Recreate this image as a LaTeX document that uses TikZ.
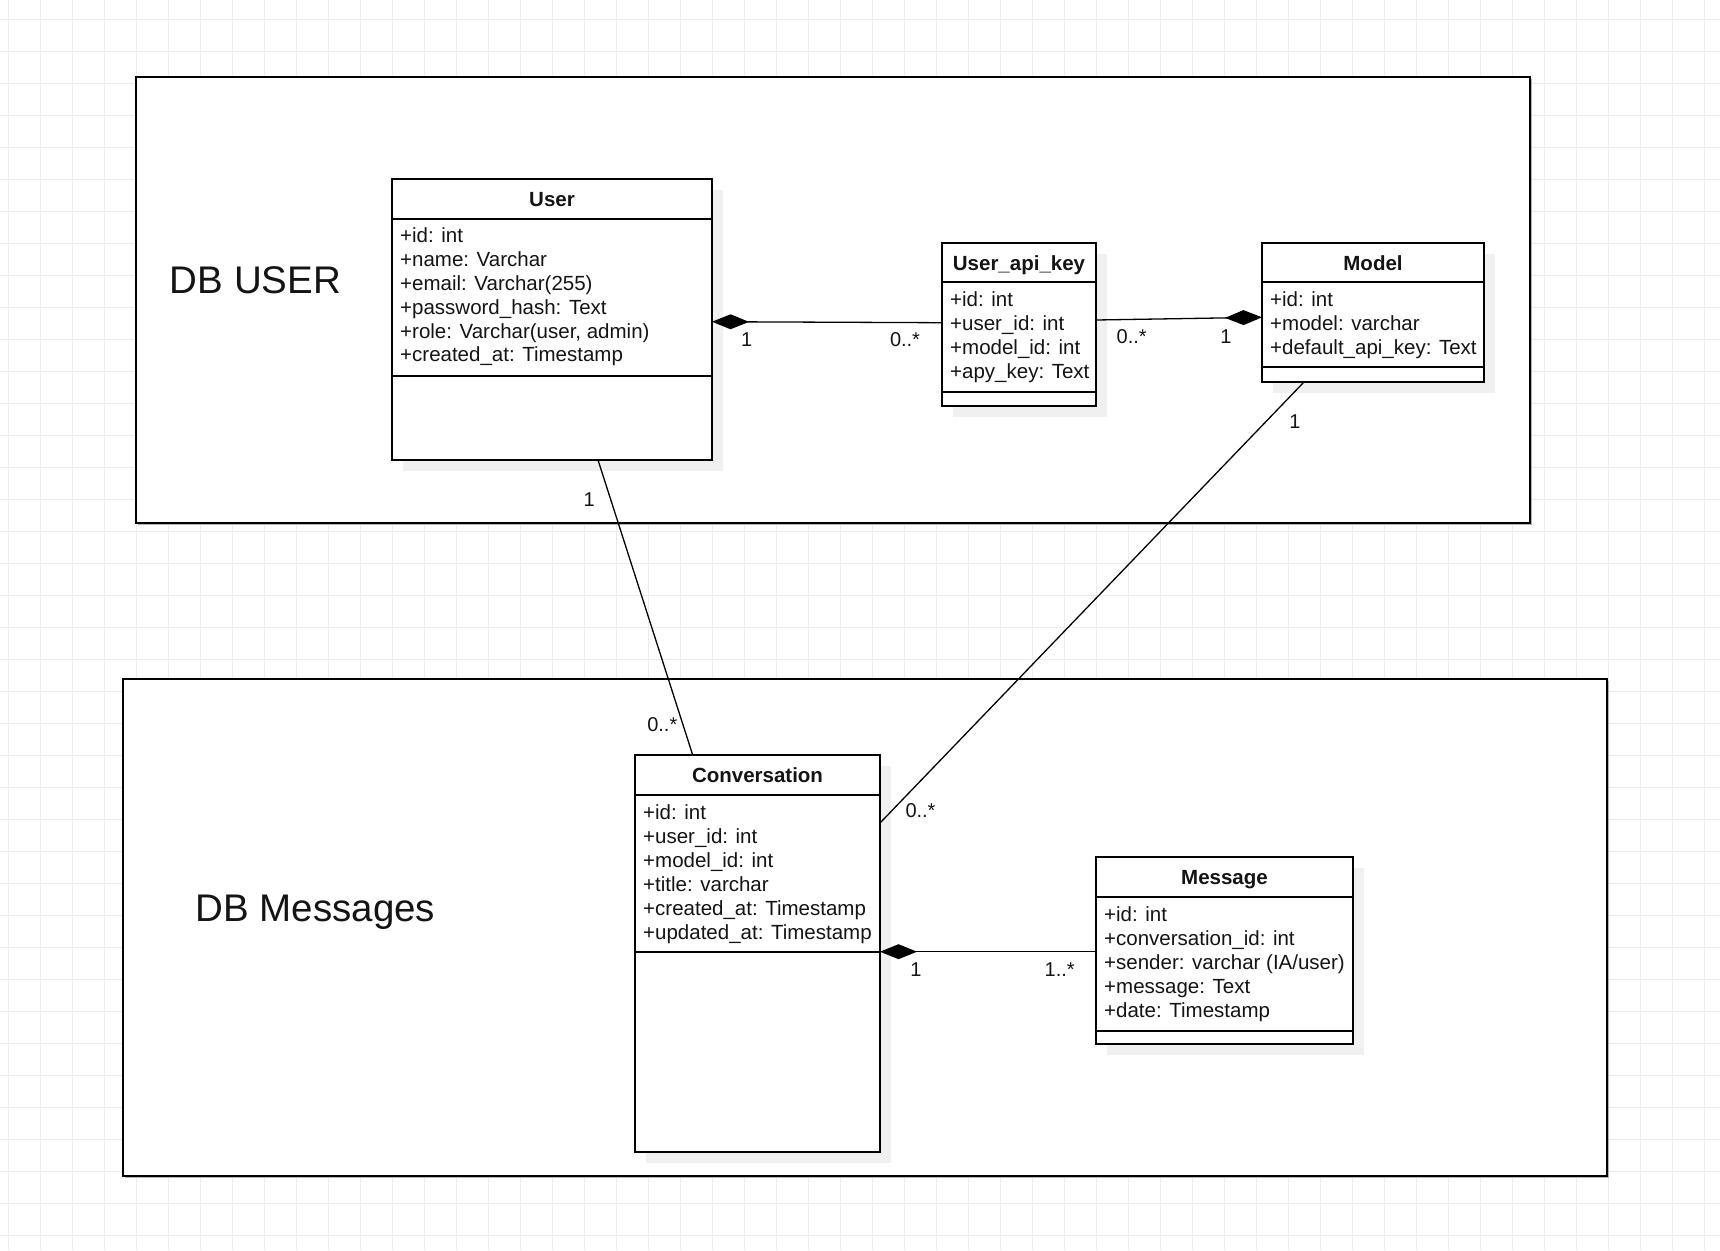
\documentclass[tikz,border=0pt]{standalone}
\usepackage{fontspec}
\setmainfont{Liberation Sans}
\usetikzlibrary{arrows.meta,calc,shadows}
\definecolor{gridc}{RGB}{236,236,236}
\definecolor{shadowc}{RGB}{240,240,240}
\definecolor{txt}{RGB}{20,20,20}
\tikzset{
  container/.style={draw=black, fill=white, line width=2pt, inner sep=0pt, outer sep=0pt, anchor=north west,
    drop shadow={shadow xshift=1.5pt, shadow yshift=-1.5pt, fill=gray!60, opacity=1}},
  clsbox/.style={draw=black, fill=white, line width=1.6pt, inner sep=0pt, outer sep=0pt, anchor=north west,
    drop shadow={shadow xshift=11pt, shadow yshift=-11pt, fill=shadowc, opacity=1}},
  sepline/.style={draw=black, line width=1.6pt},
  clstitle/.style={font=\fontsize{20.5}{24}\selectfont\bfseries, text=txt, inner sep=0pt, anchor=base},
  attr/.style={font=\fontsize{20.5}{24}\selectfont, text=txt, inner sep=0pt, anchor=base west},
  mult/.style={font=\fontsize{20}{24}\selectfont, text=txt, inner sep=0pt, anchor=base},
  dblabel/.style={font=\fontsize{38.5}{44}\selectfont, text=txt, inner sep=0pt, anchor=base},
  assoc/.style={draw=black, line width=1.3pt},
  comp/.style={assoc, {Diamond[length=37pt, width=15pt, fill=black]}-},
  compend/.style={assoc, -{Diamond[length=37pt, width=15pt, fill=black]}}
}
\begin{document}
\begin{tikzpicture}[x=1pt, y=-1pt]
\useasboundingbox (0,0) rectangle (1720,1250);
\fill[white] (0,0) rectangle (1720,1250);
% background grid
\foreach \i in {0,...,53} \draw[gridc, line width=1pt] (8.3+32*\i,0) -- (8.3+32*\i,1250);
\foreach \j in {0,...,38} \draw[gridc, line width=1pt] (0,19.3+32*\j) -- (1720,19.3+32*\j);

% containers
\node[container, minimum width=1394pt, minimum height=446pt] (dbuser) at (136,77) {};
\node[container, minimum width=1484pt, minimum height=497pt] (dbmsg) at (123,679) {};
\node[dblabel] (dbuserlbl) at (255.5,293.3) {DB USER};
\node[dblabel] (dbmsglbl) at (315.3,921) {DB Messages};

% User
\node[clsbox, minimum width=320pt, minimum height=281pt] (user) at (392,179) {};
\draw[sepline] (user.west |- 0,219) -- (user.east |- 0,219);
\draw[sepline] (user.west |- 0,376) -- (user.east |- 0,376);
\node[clstitle] (usert) at ($(user.north)+(0,27)$) {User};
\foreach \t [count=\k] in {{+id: int},{+name: Varchar},{+email: Varchar(255)},{+password\_hash: Text},{+role: Varchar(user, admin)},{+created\_at: Timestamp}}
  \node[attr] (usera\k) at ($(user.north west)+(8,40+23.8*\k)$) {\t};

% User_api_key
\node[clsbox, minimum width=154pt, minimum height=163pt] (uak) at (942,243) {};
\draw[sepline] (uak.west |- 0,282) -- (uak.east |- 0,282);
\draw[sepline] (uak.west |- 0,392) -- (uak.east |- 0,392);
\node[clstitle] (uakt) at ($(uak.north)+(0,27)$) {User\_api\_key};
\foreach \t [count=\k] in {{+id: int},{+user\_id: int},{+model\_id: int},{+apy\_key: Text}}
  \node[attr] (uaka\k) at ($(uak.north west)+(8,39+24*\k)$) {\t};

% Model
\node[clsbox, minimum width=222pt, minimum height=139pt] (model) at (1262,243) {};
\draw[sepline] (model.west |- 0,282) -- (model.east |- 0,282);
\draw[sepline] (model.west |- 0,367) -- (model.east |- 0,367);
\node[clstitle] (modelt) at ($(model.north)+(0,27)$) {Model};
\foreach \t [count=\k] in {{+id: int},{+model: varchar},{+default\_api\_key: Text}}
  \node[attr] (modela\k) at ($(model.north west)+(8,39+24*\k)$) {\t};

% Conversation
\node[clsbox, minimum width=245pt, minimum height=397pt] (conv) at (635,755) {};
\draw[sepline] (conv.west |- 0,795) -- (conv.east |- 0,795);
\draw[sepline] (conv.west |- 0,952) -- (conv.east |- 0,952);
\node[clstitle] (convt) at ($(conv.north)+(0,27)$) {Conversation};
\foreach \t [count=\k] in {{+id: int},{+user\_id: int},{+model\_id: int},{+title: varchar},{+created\_at: Timestamp},{+updated\_at: Timestamp}}
  \node[attr] (conva\k) at ($(conv.north west)+(8,40+24*\k)$) {\t};

% Message
\node[clsbox, minimum width=257pt, minimum height=187pt] (msg) at (1096,857) {};
\draw[sepline] (msg.west |- 0,897) -- (msg.east |- 0,897);
\draw[sepline] (msg.west |- 0,1031) -- (msg.east |- 0,1031);
\node[clstitle] (msgt) at ($(msg.north)+(0,27)$) {Message};
\foreach \t [count=\k] in {{+id: int},{+conversation\_id: int},{+sender: varchar (IA/user)},{+message: Text},{+date: Timestamp}}
  \node[attr] (msga\k) at ($(msg.north west)+(8,40+24*\k)$) {\t};

% connectors
\draw[comp] (user.east |- 0,321.7) -- (uak.west |- 0,322.7);
\draw[compend] (uak.east |- 0,320) -- (model.west |- 0,317.3);
\draw[assoc] (model.south -| 1304,0) -- (conv.east |- 0,823);
\draw[assoc] (user.south -| 598,0) -- (conv.north -| 692.7,0);
\draw[comp] (conv.east |- 0,951.7) -- (msg.west |- 0,951.7);

% multiplicities
\node[mult] (m1) at (746.7,346) {1};
\node[mult] (m2) at (905,346) {0..*};
\node[mult] (m3) at (1131.7,343.3) {0..*};
\node[mult] (m4) at (1226,343.3) {1};
\node[mult] (m5) at (1295,428.3) {1};
\node[mult] (m6) at (920.5,817.3) {0..*};
\node[mult] (m7) at (589.3,506) {1};
\node[mult] (m8) at (662.3,731.7) {0..*};
\node[mult] (m9) at (916,976.7) {1};
\node[mult] (m10) at (1059.7,976.7) {1..*};
\end{tikzpicture}
\end{document}
